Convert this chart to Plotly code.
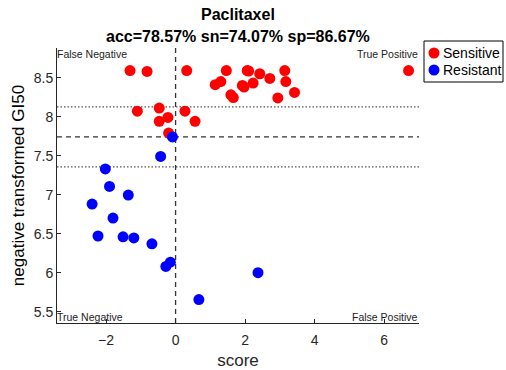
import plotly.graph_objects as go

# Sensitive cell lines: prediction score vs negative transformed GI50
sens_score = [-1.31, -0.82, 0.32, 1.46, 2.06, 2.10, 2.42, 2.71, 3.14, 3.17,
              3.42, 2.94, 2.23, 1.97, 1.92, 1.66, 1.59, 1.30, 1.14, 6.70,
              -1.10, -0.47, -0.47, -0.22, -0.20, 0.27, 0.56]
sens_gi50 = [8.59, 8.58, 8.59, 8.59, 8.59, 8.585, 8.55, 8.49, 8.59, 8.45,
             8.31, 8.24, 8.43, 8.38, 8.40, 8.245, 8.28, 8.45, 8.41, 8.59,
             8.07, 8.11, 7.94, 7.99, 7.79, 8.07, 7.94]

# Resistant cell lines
res_score = [-0.09, -0.43, -2.02, -1.90, -1.36, -2.40, -1.80, -2.23, -1.51,
             -1.20, -0.68, -0.28, -0.15, 2.37, 0.67]
res_gi50 = [7.74, 7.49, 7.33, 7.105, 6.995, 6.88, 6.70, 6.47, 6.46,
            6.445, 6.37, 6.08, 6.135, 6.00, 5.655]

threshold = 7.74
band = [8.125, 7.355]
score_cut = 0.0

x_ticks = [-2, 0, 2, 4, 6]
y_ticks = [5.5, 6, 6.5, 7, 7.5, 8, 8.5]
x_range = [-3.41, 7.0]
y_range = [5.355, 8.88]

series_names = ["Sensitive", "Resistant"]
series_colors = ["#ff0000", "#0000ff"]

W, H = 506, 370
ML, MR, MT, MB = 57, 87, 48, 47
PW, PH = W - ML - MR, H - MT - MB


def px_x(p):
    """pixel column -> paper x"""
    return (p - ML) / PW


def px_y(p):
    """pixel row -> paper y"""
    return (H - MB - p) / PH


font_family = "Liberation Sans, Arial, sans-serif"
axis_color = "#262626"

fig = go.Figure()
fig.add_trace(go.Scatter(x=sens_score, y=sens_gi50, mode="markers", name=series_names[0],
                         marker=dict(color=series_colors[0], size=11)))
fig.add_trace(go.Scatter(x=res_score, y=res_gi50, mode="markers", name=series_names[1],
                         marker=dict(color=series_colors[1], size=11)))

# threshold lines
line_col = "#333333"
fig.add_shape(type="line", xref="paper", x0=0, x1=1, yref="y", y0=threshold, y1=threshold,
              line=dict(color=line_col, width=1.3, dash="5px,4px"), layer="below")
for b in band:
    fig.add_shape(type="line", xref="paper", x0=0, x1=1, yref="y", y0=b, y1=b,
                  line=dict(color="#555555", width=1.2, dash="1.5px,2px"), layer="below")
fig.add_shape(type="line", xref="x", x0=score_cut, x1=score_cut, yref="paper", y0=0, y1=1,
              line=dict(color=line_col, width=1.3, dash="5px,4px"), layer="below")

# quadrant labels
corner = dict(size=10.5, color="#222222", family=font_family)
fig.add_annotation(text="False Negative", xref="paper", yref="paper", x=0, y=1,
                   xanchor="left", yanchor="top", showarrow=False, font=corner,
                   xshift=-2, yshift=2)
fig.add_annotation(text="True Positive", xref="paper", yref="paper", x=1, y=1,
                   xanchor="right", yanchor="top", showarrow=False, font=corner,
                   xshift=1, yshift=2)
fig.add_annotation(text="True Negative", xref="paper", yref="paper", x=0, y=0,
                   xanchor="left", yanchor="bottom", showarrow=False, font=corner,
                   xshift=-2, yshift=-2)
fig.add_annotation(text="False Positive", xref="paper", yref="paper", x=1, y=0,
                   xanchor="right", yanchor="bottom", showarrow=False, font=corner,
                   xshift=1, yshift=-2)

# title, two bold lines
fig.add_annotation(text="<b>Paclitaxel</b>", xref="paper", yref="paper", x=0.5, y=px_y(14),
                   xanchor="center", yanchor="middle", showarrow=False,
                   font=dict(size=16, color="#000000", family=font_family))
fig.add_annotation(text="<b>acc=78.57% sn=74.07% sp=86.67%</b>", xref="paper", yref="paper",
                   x=0.5, y=px_y(37), xanchor="center", yanchor="middle", showarrow=False,
                   font=dict(size=16, color="#000000", family=font_family))

# legend box with series symbols
fig.add_shape(type="rect", xref="paper", yref="paper",
              x0=px_x(424), x1=px_x(503), y0=px_y(82), y1=px_y(41),
              line=dict(color="#000000", width=1), fillcolor="white", layer="above")
for i, (name, col) in enumerate(zip(series_names, series_colors)):
    cy = px_y(53 + 17 * i)
    fig.add_shape(type="circle", xref="paper", yref="paper",
                  xsizemode="pixel", ysizemode="pixel",
                  xanchor=px_x(434), yanchor=cy, x0=-5.5, x1=5.5, y0=-5.5, y1=5.5,
                  fillcolor=col, line=dict(width=0), layer="above")
    fig.add_annotation(text=name, xref="paper", yref="paper", x=px_x(441), y=cy,
                       xanchor="left", yanchor="middle", showarrow=False,
                       font=dict(size=14, color="#000000", family=font_family))

fig.update_layout(
    width=W, height=H,
    margin=dict(l=ML, r=MR, t=MT, b=MB, autoexpand=False),
    paper_bgcolor="white", plot_bgcolor="white",
    font=dict(family=font_family, color=axis_color),
    showlegend=False,
    xaxis=dict(range=x_range, tickvals=x_ticks, ticks="inside", ticklen=4,
               tickcolor=axis_color, showline=True, linecolor=axis_color, linewidth=1,
               showgrid=False, zeroline=False, mirror=False, ticklabelstandoff=4,
               tickfont=dict(size=14, color=axis_color),
               title=dict(text="score", font=dict(size=17, color=axis_color), standoff=8)),
    yaxis=dict(range=y_range, tickvals=y_ticks, ticktext=[str(v) for v in y_ticks],
               ticks="inside", ticklen=4,
               tickcolor=axis_color, showline=True, linecolor=axis_color, linewidth=1,
               showgrid=False, zeroline=False, mirror=False,
               tickfont=dict(size=14, color=axis_color),
               title=dict(text="negative transformed GI50", font=dict(size=17, color="#000000"),
                          standoff=4)),
)

fig.write_html("out.html")
